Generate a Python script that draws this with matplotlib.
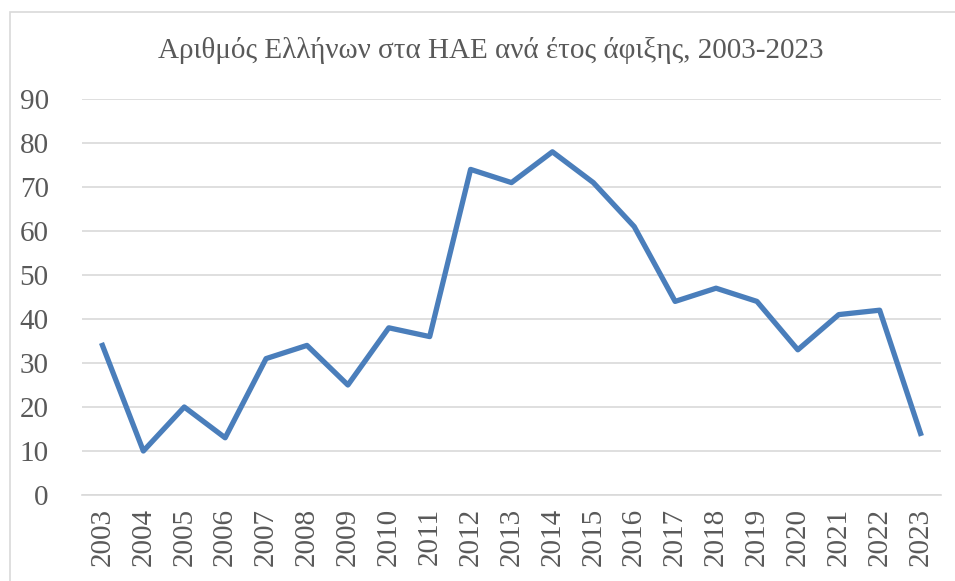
import matplotlib.pyplot as plt
from matplotlib.patches import Rectangle

years = [str(y) for y in range(2003, 2024)]
arrivals = [34, 10, 20, 13, 31, 34, 25, 38, 36, 74, 71, 78, 71, 61, 44, 47, 44, 33, 41, 42, 14]

plt.rcParams['font.family'] = ['Liberation Serif', 'DejaVu Serif']

fig = plt.figure(figsize=(9.55, 5.81), dpi=100)
ax = fig.add_axes([82 / 955, 1 - 495 / 581, (941 - 82) / 955, (495 - 99) / 581])

x = list(range(len(years)))
ax.plot(x, arrivals, color='#4A7EBB', linewidth=3.8, solid_joinstyle='round', zorder=3)

ax.set_xlim(-0.5, len(years) - 0.5)
ax.set_ylim(0, 90)
ax.set_yticks(range(0, 91, 10))
ax.set_xticks(x)
ax.set_xticklabels(years, rotation=90)
ax.grid(axis='y', color='#D9D9D9', linewidth=1.2)
ax.set_axisbelow(True)
for s in ['top', 'right', 'left']:
    ax.spines[s].set_visible(False)
ax.spines['bottom'].set_color('#D9D9D9')
ax.spines['bottom'].set_linewidth(1.2)
ax.tick_params(axis='both', length=0, labelsize=21, labelcolor='#595959')
ax.tick_params(axis='y', pad=24)
ax.tick_params(axis='x', pad=9)

fig.text(491 / 955, 1 - 50 / 581, 'Αριθμός Ελλήνων στα ΗΑΕ ανά έτος άφιξης, 2003-2023',
         ha='center', va='center', fontsize=21, color='#595959')

# chart frame
fig.patches.append(Rectangle((10 / 955, -0.1), 1.2, 1.1 - 12 / 581, transform=fig.transFigure,
                             fill=False, edgecolor='#D9D9D9', linewidth=1.2))

plt.savefig('out.png', dpi=100)
